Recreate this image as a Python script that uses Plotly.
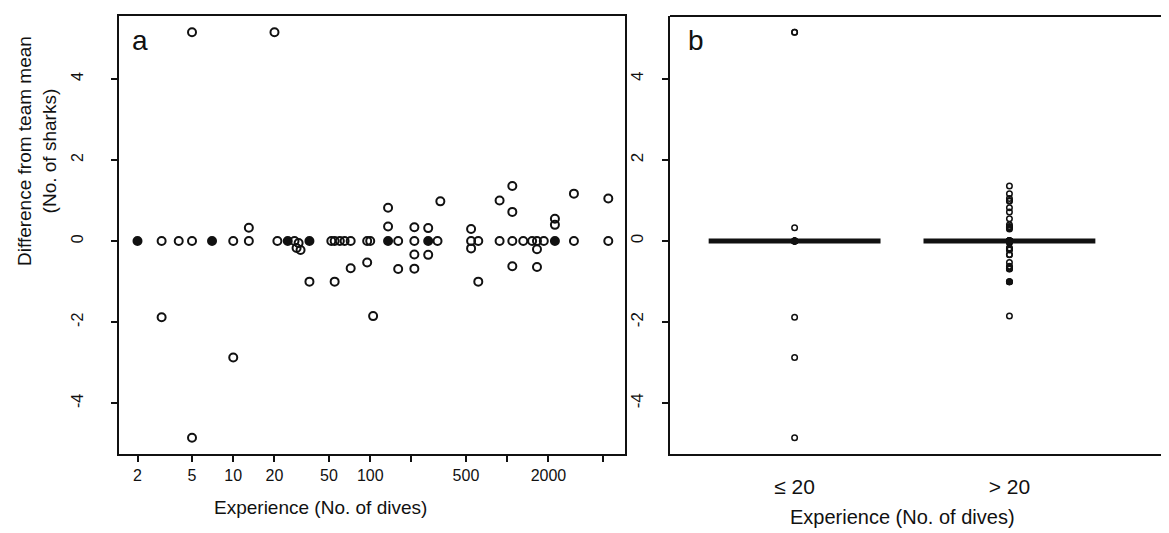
import numpy as np
import plotly.graph_objects as go

# ---------------- data ----------------
# experience (number of dives) of each diver
dives = [2, 3, 3, 4, 5, 5, 5, 7, 10, 10, 13, 13, 20, 21,
         25, 28, 29, 30, 31, 36, 36,
         52, 55, 55, 60, 65, 72, 72,
         95, 95, 100, 105,
         135, 135, 135, 160, 160,
         210, 210, 210, 210, 265, 265, 265, 310, 325,
         545, 545, 545, 615, 615, 880, 880,
         1090, 1090, 1090, 1090, 1310, 1520, 1650, 1650, 1650, 1850,
         2230, 2230, 2230, 3070, 3070, 5470, 5470]
# difference from team mean (number of sharks)
diff = [0, 0, -1.88, 0, 0, 5.15, -4.85, 0, 0, -2.87, 0, 0.33, 5.15, 0,
        0, 0, -0.17, -0.05, -0.22, 0, -1.0,
        0, 0, -1.0, 0, 0, 0, -0.67,
        0, -0.53, 0, -1.85,
        0, 0.36, 0.82, 0, -0.69,
        0, 0.34, -0.33, -0.68, 0, 0.32, -0.34, 0, 0.98,
        0.3, 0, -0.18, 0, -1.0, 0, 1.0,
        0, 1.36, 0.72, -0.62, 0, 0, 0, -0.2, -0.64, 0,
        0, 0.4, 0.55, 0, 1.17, 0, 1.05]
# number of divers plotted on top of each other at that point
overlap = [2, 1, 1, 1, 1, 1, 1, 2, 1, 1, 1, 1, 1, 1,
           2, 1, 1, 1, 1, 2, 1,
           1, 1, 1, 1, 1, 1, 1,
           1, 1, 1, 1,
           2, 1, 1, 1, 1,
           1, 1, 1, 1, 2, 1, 1, 1, 1,
           1, 1, 1, 1, 1, 1, 1,
           1, 1, 1, 1, 1, 1, 1, 1, 1, 1,
           2, 1, 1, 1, 1, 1, 1]

group_labels = ["\u2264 20", "> 20"]
group_cut = 20

x_tickvals = [2, 5, 10, 20, 50, 100, 200, 500, 1000, 2000, 5000]
x_ticktext = ["2", "5", "10", "20", "50", "100", "", "500", "", "2000", ""]
y_tickvals = [-4, -2, 0, 2, 4]
y_ticktext = ["-4", "-2", "0", "2", "4"]

x_title = "Experience (No. of dives)"
y_title = "Difference from team mean<br>(No. of sharks)"

# ---------------- layout geometry ----------------
W, H = 1169, 533
FONT = "Liberation Sans, Arial, sans-serif"
INK = "#111111"

a_left, a_right = 111, 617
b_left = 662
p_top, p_bot = 8, 446

def px(x):
    return x / W

def py(y):
    return 1 - y / H

dives_a = np.array(dives, dtype=float)
diff_a = np.array(diff, dtype=float)
ov = np.array(overlap)

symbols = ["circle" if n > 1 else "circle-open" for n in ov]

fig = go.Figure()

# panel a
fig.add_trace(go.Scatter(
    x=dives_a, y=diff_a, mode="markers", xaxis="x", yaxis="y",
    marker=dict(symbol=symbols, size=8, color=INK, line=dict(width=2, color=INK)),
    showlegend=False, hoverinfo="x+y"))

# panel b: groups (points first, median line drawn over them)
grp_idx = np.where(dives_a <= group_cut, 1, 2)
for g in (1, 2):
    sel = grp_idx == g
    vals = diff_a[sel]
    counts = np.array([np.sum(vals == v) for v in vals])
    sym = ["circle" if c >= 3 else "circle-open" for c in counts]
    med = float(np.median(vals))
    fig.add_trace(go.Scatter(
        x=[g] * len(vals), y=vals, mode="markers", xaxis="x2", yaxis="y2",
        marker=dict(symbol=sym, size=5.5, color=INK, line=dict(width=1.5, color=INK)),
        showlegend=False))
    fig.add_trace(go.Scatter(
        x=[g - 0.4, g + 0.4], y=[med, med], mode="lines", xaxis="x2", yaxis="y2",
        line=dict(color=INK, width=5), showlegend=False, hoverinfo="skip"))

common_axis = dict(showgrid=False, zeroline=False, showline=True, linecolor=INK,
                   linewidth=2, ticks="outside", tickcolor=INK, tickwidth=1.5,
                   ticklen=6)

ydom = [py(p_bot), py(p_top)]
yrange = [-5.25, 5.55]

fig.update_layout(
    width=W, height=H,
    margin=dict(l=0, r=0, t=0, b=0),
    paper_bgcolor="white", plot_bgcolor="white",
    font=dict(family=FONT, color=INK),
    xaxis=dict(common_axis, type="log", domain=[px(a_left), px(a_right)],
               range=[0.166, 3.86], tickvals=x_tickvals, ticktext=x_ticktext,
               tickfont=dict(size=16), mirror=True, anchor="y",
               ticklabelstandoff=0),
    yaxis=dict(common_axis, domain=ydom, range=yrange, tickvals=y_tickvals,
               ticktext=y_ticktext, tickangle=-90, tickfont=dict(size=16),
               mirror=True, anchor="x", ticklabelstandoff=22),
    xaxis2=dict(common_axis, domain=[px(b_left), 1.0], range=[0.42, 2.78],
                tickvals=[1, 2], ticktext=group_labels, ticks="",
                tickfont=dict(size=21), anchor="y2", ticklabelstandoff=13),
    yaxis2=dict(common_axis, domain=ydom, range=yrange, tickvals=y_tickvals,
                ticktext=y_ticktext, tickangle=-90, tickfont=dict(size=17),
                anchor="x2", ticklabelstandoff=12),
    shapes=[dict(type="line", xref="x2 domain", yref="y2 domain",
                 x0=0, x1=1, y0=1, y1=1, line=dict(color=INK, width=2))],
    annotations=[
        dict(text="a", x=px(132), y=py(33), xref="paper", yref="paper",
             showarrow=False, font=dict(size=28, color=INK),
             xanchor="center", yanchor="middle"),
        dict(text="b", x=px(688), y=py(33), xref="paper", yref="paper",
             showarrow=False, font=dict(size=28, color=INK),
             xanchor="center", yanchor="middle"),
        dict(text=x_title, x=px(312), y=py(499), xref="paper", yref="paper",
             showarrow=False, font=dict(size=19, color=INK),
             xanchor="center", yanchor="middle"),
        dict(text=x_title, x=px(894), y=py(509), xref="paper", yref="paper",
             showarrow=False, font=dict(size=20, color=INK),
             xanchor="center", yanchor="middle"),
        dict(text=y_title, x=px(29), y=py(143), xref="paper", yref="paper",
             showarrow=False, textangle=-90, font=dict(size=19, color=INK),
             xanchor="center", yanchor="middle"),
    ],
)

fig.write_html("out.html")
